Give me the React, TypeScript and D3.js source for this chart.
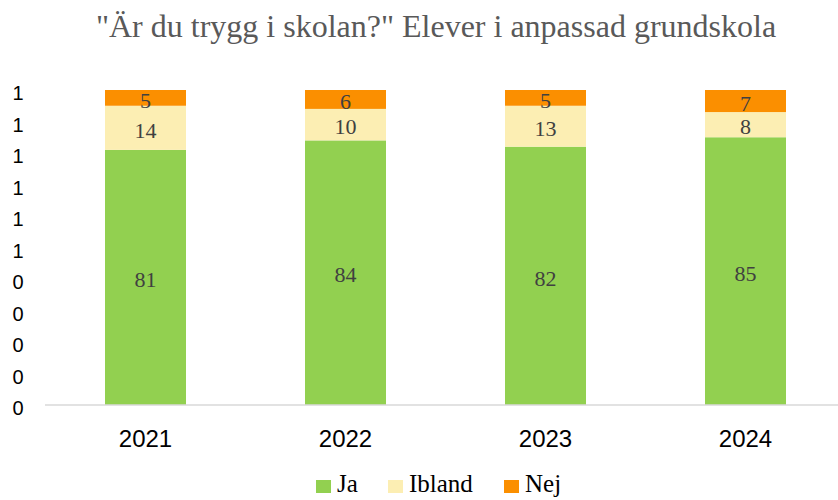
import React from "react";
import * as d3 from "d3";

const years = ["2021", "2022", "2023", "2024"];
const ja = [81, 84, 82, 85];
const ibland = [14, 10, 13, 8];
const nej = [5, 6, 5, 7];
const seriesNames = ["Ja", "Ibland", "Nej"];
const seriesColors = ["#92D050", "#FCEEB3", "#FB8F00"];
const yTicks = [0, 10, 20, 30, 40, 50, 60, 70, 80, 90, 100];
const title = "\"Är du trygg i skolan?\" Elever i anpassad grundskola";

const W = 838;
const H = 500;

export default function App() {
  const x = d3.scaleBand<string>().domain(years).range([45.5, 845.5]).paddingInner(0.595).paddingOuter(0.2975);
  const y = d3.scaleLinear().domain([0, 100]).range([405, 90]);
  const rows = years.map((yr, i) => ({ year: yr, Ja: ja[i], Ibland: ibland[i], Nej: nej[i] }));
  const stack = d3.stack<any>().keys(seriesNames)(rows);
  const fmt = (v: number) => String(Math.round(v / 100 + 1e-9));
  const legendX = [316, 388, 504];

  return (
    <svg width={W} height={H} style={{ position: "absolute", left: 0, top: 0, background: "#fff" }}>
      <text x={436} y={37} textAnchor="middle" fontFamily="Liberation Serif" fontSize={32} fill="#595959">
        {title}
      </text>
      {yTicks.map((t) => (
        <text key={t} x={18} y={y(t) + 3} dy="0.35em" textAnchor="middle" fontFamily="Liberation Sans" fontSize={20} fill="#000">
          {fmt(t)}
        </text>
      ))}
      {stack.map((s, si) => (
        <g key={s.key}>
          {s.map((d, i) => (
            <g key={i}>
              <rect x={x(years[i])} y={y(d[1])} width={x.bandwidth()} height={y(d[0]) - y(d[1])} fill={seriesColors[si]} />
              <text
                x={(x(years[i]) as number) + x.bandwidth() / 2}
                y={(y(d[0]) + y(d[1])) / 2 + 2}
                dy="0.35em"
                textAnchor="middle"
                fontFamily="Liberation Serif"
                fontSize={22}
                fill="#404040"
              >
                {d[1] - d[0]}
              </text>
            </g>
          ))}
        </g>
      ))}
      <line x1={45} x2={838} y1={y(0)} y2={y(0)} stroke="#D9D9D9" strokeWidth={1.5} />
      {years.map((yr) => (
        <text key={yr} x={(x(yr) as number) + x.bandwidth() / 2} y={447} textAnchor="middle" fontFamily="Liberation Sans" fontSize={24} fill="#000">
          {yr}
        </text>
      ))}
      {seriesNames.map((n, i) => (
        <g key={n}>
          <rect x={legendX[i]} y={480} width={15} height={13} fill={seriesColors[i]} />
          <text x={legendX[i] + 21} y={492} fontFamily="Liberation Serif" fontSize={25} fill="#000">
            {n}
          </text>
        </g>
      ))}
    </svg>
  );
}
